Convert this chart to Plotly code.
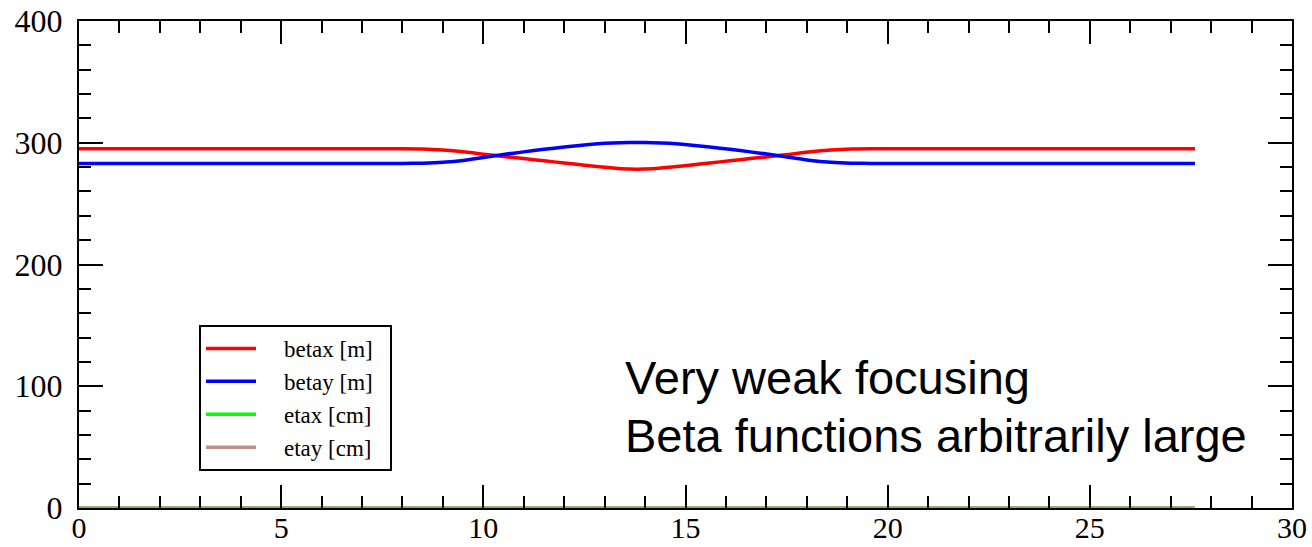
import plotly.graph_objects as go

# Lattice position s [m]
s = [0, 2, 4, 6, 8, 8.5, 9, 9.5, 10, 10.5, 11, 11.5, 12, 12.5, 13, 13.4,
     13.8,
     14.2, 14.6, 15.1, 15.6, 16.1, 16.6, 17.1, 17.6, 18.1, 18.6, 19.1, 19.6,
     21.6, 23.6, 25.6, 27.6]

# Horizontal beta function [m]
betax = [295, 295, 295, 295, 295, 294.8, 294.0, 292.6, 290.6, 288.7, 287.0,
         285.2, 283.4, 281.6, 279.9, 278.7,
         278.3,
         278.7, 279.9, 281.6, 283.4, 285.2, 287.0, 288.7, 290.6, 292.6, 294.0,
         294.8, 295, 295, 295, 295, 295]

# Vertical beta function [m]
betay = [283, 283, 283, 283, 283, 283.2, 283.9, 285.4, 287.9, 290.4, 292.5,
         294.6, 296.5, 298.2, 299.5, 300.1,
         300.3,
         300.1, 299.5, 298.2, 296.5, 294.6, 292.5, 290.4, 287.9, 285.4, 283.9,
         283.2, 283, 283, 283, 283, 283]

# Dispersion [cm]
etax = [0] * len(s)
etay = [0] * len(s)

series = [
    ("betax [m]", betax, "#ff0000"),
    ("betay [m]", betay, "#0000ff"),
    ("etax [cm]", etax, "#00ff00"),
    ("etay [cm]", etay, "#bc8f8f"),
]

NB = "\u00a0"

fig = go.Figure()
for name, vals, color in series:
    fig.add_trace(go.Scatter(
        x=s, y=vals, name=NB * 4 + name + NB * 2, mode="lines",
        line=dict(color=color, width=3.5, shape="spline", smoothing=0.6),
    ))

axis_common = dict(
    showgrid=False, zeroline=False, automargin=False,
    showline=True, linecolor="black", linewidth=2, mirror="ticks",
    ticks="inside", tickcolor="black", tickwidth=2,
)

fig.update_xaxes(
    range=[0, 30], tick0=0, dtick=5, ticklen=23, ticklabelstandoff=-8,
    tickfont=dict(family="Liberation Serif", size=30, color="black"),
    minor=dict(ticks="inside", dtick=1, ticklen=12, tickwidth=2, tickcolor="black"),
    **axis_common,
)
fig.update_yaxes(
    range=[0, 400], tick0=0, dtick=100, ticklen=24, ticklabelstandoff=8,
    tickfont=dict(family="Liberation Serif", size=32, color="black"),
    minor=dict(ticks="inside", dtick=20, ticklen=12, tickwidth=2, tickcolor="black"),
    **axis_common,
)

note_font = dict(family="Liberation Sans", size=47, color="black")
fig.add_annotation(
    text="Very weak focusing", xref="paper", yref="paper",
    x=(623 - 79) / 1213, y=(508 - 378) / 487, xanchor="left", yanchor="middle",
    showarrow=False, font=note_font,
)
fig.add_annotation(
    text="Beta functions arbitrarily large", xref="paper", yref="paper",
    x=(623 - 79) / 1213, y=(508 - 435) / 487, xanchor="left", yanchor="middle",
    showarrow=False, font=note_font,
)

fig.update_layout(
    width=1312, height=547,
    margin=dict(l=79, r=20, t=21, b=39),
    paper_bgcolor="white", plot_bgcolor="white",
    legend=dict(
        x=(199 - 79) / 1213, y=(508 - 325) / 487, xanchor="left", yanchor="top",
        bgcolor="white", bordercolor="black", borderwidth=2,
        font=dict(family="Liberation Serif", size=23, color="black"),
        itemwidth=50, tracegroupgap=0,
    ),
)

fig.write_html("out.html")
